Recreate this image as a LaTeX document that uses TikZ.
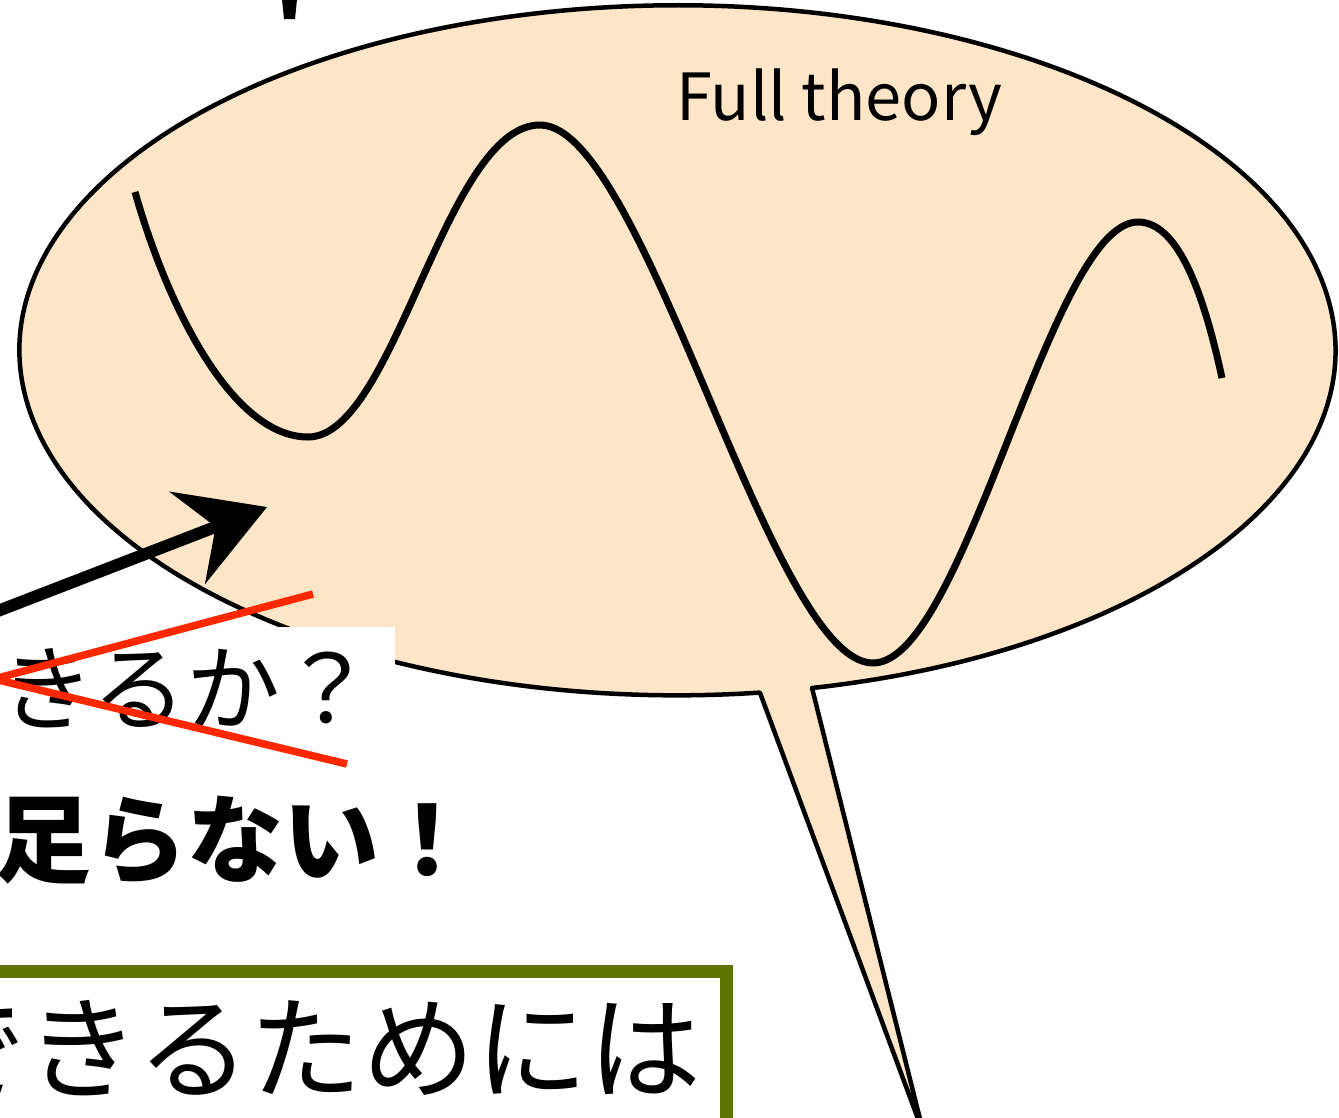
\documentclass[tikz,border=0pt]{standalone}
\usepackage{fontspec}
\setmainfont{Noto Sans CJK JP}
\usetikzlibrary{arrows.meta}
\definecolor{bubble}{RGB}{253,229,199}
\definecolor{crossred}{RGB}{255,40,0}
\definecolor{chalkgreen}{RGB}{94,118,0}
\tikzset{
  jptext/.style={anchor=west, inner sep=0pt},
  wave/.style={line width=7pt},
}
\begin{document}
\begin{tikzpicture}[x=1pt, y=-1pt, line join=round]
        \useasboundingbox (0,0) rectangle (1339,1117);
        %% piece of a letter above the picture
        \fill (282,-1) -- (297,-1) -- (295,19) -- (284,19) -- cycle;
        %% speech bubble
        \coordinate (tip) at (924,1135);
        \coordinate (tailR) at (812,688);
        \draw[line width=4.5pt, fill=bubble] (tip) -- (tailR)
              arc[start angle=78.2, end angle=-277.2, x radius=658, y radius=345]
              -- cycle;
        %% full theory curve
        \draw[wave] (135,192) .. controls (170,315) and (235,437) .. (308,437)
              .. controls (395,437) and (445,125) .. (540,125)
              .. controls (645,125) and (770,663) .. (873,663)
              .. controls (965,663) and (1050,222) .. (1138,222)
              .. controls (1180,222) and (1205,300) .. (1222,378);
        \node[anchor=base west, inner sep=0pt, font=\fontsize{65}{70}\selectfont]
            (full) at (676,120) {Full theory};
        %% crossed out question
        \fill[white] (-10,627) rectangle (395,750);
        \node[jptext, font=\fontsize{94}{100}\selectfont] (ask) at (0,688) {きるか？};
        \coordinate (crossA) at (313,594);
        \coordinate (crossL) at (-6,679);
        \coordinate (crossB) at (347,764);
        \draw[crossred, line width=7.5pt, line join=miter] (crossA) -- (crossL) -- (crossB);
        %% chalk arrow
        \coordinate (arrS) at (-10,614);
        \coordinate (arrE) at (267,507);
        \draw[line width=12pt, -{Stealth[length=85pt, width=98pt, inset=30pt]}]
            (arrS) -- (arrE);
        %% answer
        \node[jptext, font=\fontsize{96}{106}\selectfont\bfseries] (lack) at (-5,840) {足らない！};
        %% green box
        \draw[chalkgreen, line width=13pt, line join=miter] (-20,971) rectangle (726,1130);
        \node[jptext, font=\fontsize{113}{120}\selectfont] (cond) at (-87,1048) {できるためには};
    \end{tikzpicture}
\end{document}
